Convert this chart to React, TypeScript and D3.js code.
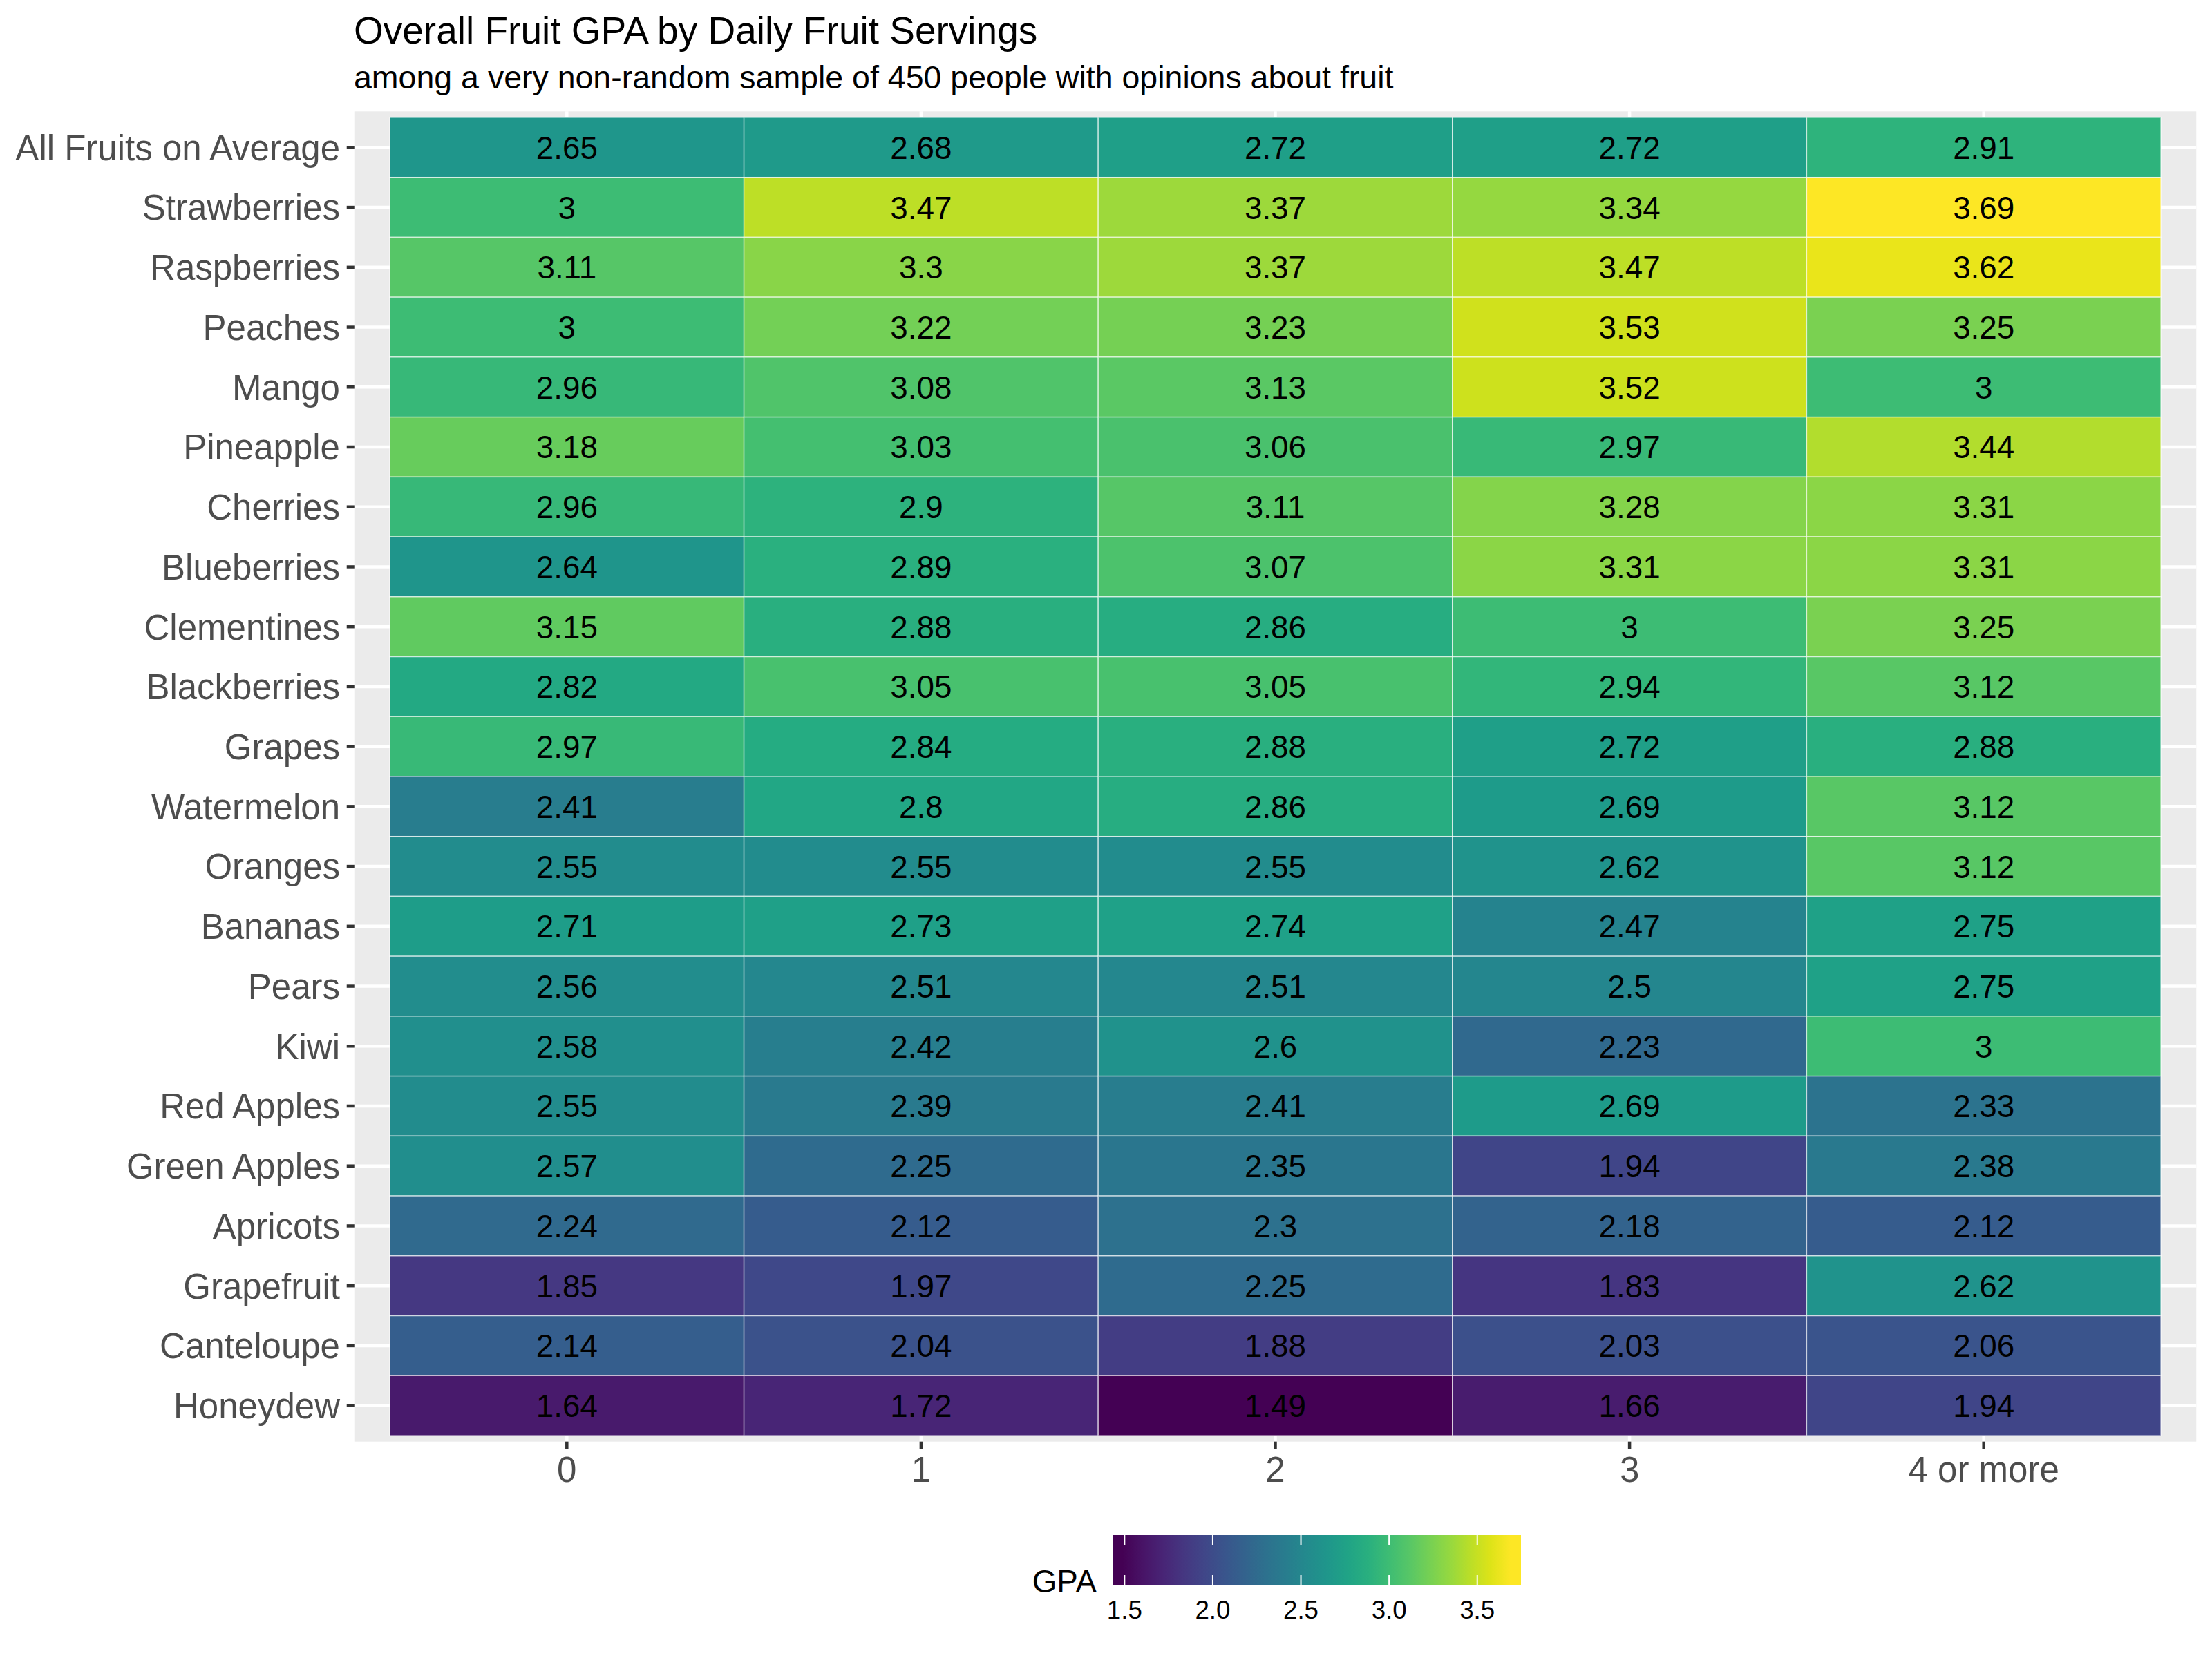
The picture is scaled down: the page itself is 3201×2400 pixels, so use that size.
import * as d3 from "d3";

const fruits = [
  "All Fruits on Average",
  "Strawberries",
  "Raspberries",
  "Peaches",
  "Mango",
  "Pineapple",
  "Cherries",
  "Blueberries",
  "Clementines",
  "Blackberries",
  "Grapes",
  "Watermelon",
  "Oranges",
  "Bananas",
  "Pears",
  "Kiwi",
  "Red Apples",
  "Green Apples",
  "Apricots",
  "Grapefruit",
  "Canteloupe",
  "Honeydew",
];

const servings = ["0", "1", "2", "3", "4 or more"];

// GPA per fruit, one array per servings column
const gpa0 = [2.65, 3, 3.11, 3, 2.96, 3.18, 2.96, 2.64, 3.15, 2.82, 2.97, 2.41, 2.55, 2.71, 2.56, 2.58, 2.55, 2.57, 2.24, 1.85, 2.14, 1.64];
const gpa1 = [2.68, 3.47, 3.3, 3.22, 3.08, 3.03, 2.9, 2.89, 2.88, 3.05, 2.84, 2.8, 2.55, 2.73, 2.51, 2.42, 2.39, 2.25, 2.12, 1.97, 2.04, 1.72];
const gpa2 = [2.72, 3.37, 3.37, 3.23, 3.13, 3.06, 3.11, 3.07, 2.86, 3.05, 2.88, 2.86, 2.55, 2.74, 2.51, 2.6, 2.41, 2.35, 2.3, 2.25, 1.88, 1.49];
const gpa3 = [2.72, 3.34, 3.47, 3.53, 3.52, 2.97, 3.28, 3.31, 3, 2.94, 2.72, 2.69, 2.62, 2.47, 2.5, 2.23, 2.69, 1.94, 2.18, 1.83, 2.03, 1.66];
const gpa4 = [2.91, 3.69, 3.62, 3.25, 3, 3.44, 3.31, 3.31, 3.25, 3.12, 2.88, 3.12, 3.12, 2.75, 2.75, 3, 2.33, 2.38, 2.12, 2.62, 2.06, 1.94];

const legendTicks = [1.5, 2.0, 2.5, 3.0, 3.5];

const W = 3201;
const H = 2400;
const FONT = "'Liberation Sans', Arial, Helvetica, sans-serif";

export default function App() {
  const columns = [gpa0, gpa1, gpa2, gpa3, gpa4];
  const cells = columns.flatMap((col, ci) =>
    col.map((v, ri) => ({ fruit: fruits[ri], serving: servings[ci], value: v }))
  );

  const x = d3.scaleBand<string>().domain(servings).range([564, 3127]);
  const y = d3.scaleBand<string>().domain(fruits).range([170, 2078]);
  const bw = x.bandwidth();
  const bh = y.bandwidth();

  // panel with ggplot-style discrete expansion
  const px0 = x.range()[0] - 0.1 * bw;
  const px1 = x.range()[1] + 0.1 * bw;
  const py0 = y.range()[0] - 0.1 * bh;
  const py1 = y.range()[1] + 0.1 * bh;

  const extent = d3.extent(cells, (d) => d.value) as [number, number];
  const color = d3.scaleSequential(d3.interpolateViridis).domain(extent);

  // colour bar
  const barX = 1610;
  const barW = 591;
  const barY = 2222;
  const barH = 72;
  const nbin = 20;
  const legendX = d3
    .scaleLinear()
    .domain(extent)
    .range([barX + (0.5 / nbin) * barW, barX + (1 - 0.5 / nbin) * barW]);
  const binValues = d3.range(nbin).map((i) => extent[0] + ((extent[1] - extent[0]) * i) / (nbin - 1));

  return (
    <svg
      width={W}
      height={H}
      viewBox={`0 0 ${W} ${H}`}
      style={{ position: "absolute", left: 0, top: 0, background: "#fff" }}
      fontFamily={FONT}
    >
      <defs>
        <linearGradient id="gpa-grad" x1="0" x2="1" y1="0" y2="0">
          {binValues.map((v, i) => (
            <stop key={i} offset={(i + 0.5) / nbin} stopColor={color(v)} />
          ))}
        </linearGradient>
      </defs>

      <text x={512} y={63} fontSize={55} fill="#000">
        Overall Fruit GPA by Daily Fruit Servings
      </text>
      <text x={512} y={128} fontSize={46.5} fill="#000">
        among a very non-random sample of 450 people with opinions about fruit
      </text>

      {/* panel */}
      <rect x={px0} y={py0} width={px1 - px0} height={py1 - py0} fill="#EBEBEB" />
      {servings.map((s) => (
        <line
          key={s}
          x1={x(s)! + bw / 2}
          x2={x(s)! + bw / 2}
          y1={py0}
          y2={py1}
          stroke="#fff"
          strokeWidth={4.5}
        />
      ))}
      {fruits.map((f) => (
        <line
          key={f}
          x1={px0}
          x2={px1}
          y1={y(f)! + bh / 2}
          y2={y(f)! + bh / 2}
          stroke="#fff"
          strokeWidth={4.5}
        />
      ))}

      {/* tiles */}
      {cells.map((d) => (
        <rect
          key={d.fruit + d.serving}
          x={x(d.serving)}
          y={y(d.fruit)}
          width={bw}
          height={bh}
          fill={color(d.value)}
          stroke="#fff"
          strokeOpacity={0.6}
          strokeWidth={1.5}
        />
      ))}
      {cells.map((d) => (
        <text
          key={"t" + d.fruit + d.serving}
          x={x(d.serving)! + bw / 2}
          y={y(d.fruit)! + bh / 2}
          dy="0.36em"
          textAnchor="middle"
          fontSize={45.8}
          fill="#000"
        >
          {String(d.value)}
        </text>
      ))}

      {/* y axis */}
      {fruits.map((f) => (
        <g key={"y" + f}>
          <line x1={px0 - 11} x2={px0} y1={y(f)! + bh / 2} y2={y(f)! + bh / 2} stroke="#333" strokeWidth={4.5} />
          <text
            x={492}
            y={y(f)! + bh / 2}
            dy="0.36em"
            textAnchor="end"
            fontSize={51}
            fill="#4D4D4D"
          >
            {f}
          </text>
        </g>
      ))}

      {/* x axis */}
      {servings.map((s) => (
        <g key={"x" + s}>
          <line x1={x(s)! + bw / 2} x2={x(s)! + bw / 2} y1={py1} y2={py1 + 11} stroke="#333" strokeWidth={4.5} />
          <text x={x(s)! + bw / 2} y={2145} textAnchor="middle" fontSize={51} fill="#4D4D4D">
            {s}
          </text>
        </g>
      ))}

      {/* legend */}
      <text x={1587} y={2305} textAnchor="end" fontSize={45.8} fill="#000">
        GPA
      </text>
      <rect x={barX} y={barY} width={barW} height={barH} fill="url(#gpa-grad)" />
      {legendTicks.map((t) => (
        <g key={"l" + t}>
          <line x1={legendX(t)} x2={legendX(t)} y1={barY} y2={barY + 14} stroke="#fff" strokeWidth={2} />
          <line x1={legendX(t)} x2={legendX(t)} y1={barY + barH - 14} y2={barY + barH} stroke="#fff" strokeWidth={2} />
          <text x={legendX(t)} y={2343} textAnchor="middle" fontSize={36.7} fill="#000">
            {d3.format(".1f")(t)}
          </text>
        </g>
      ))}
    </svg>
  );
}
